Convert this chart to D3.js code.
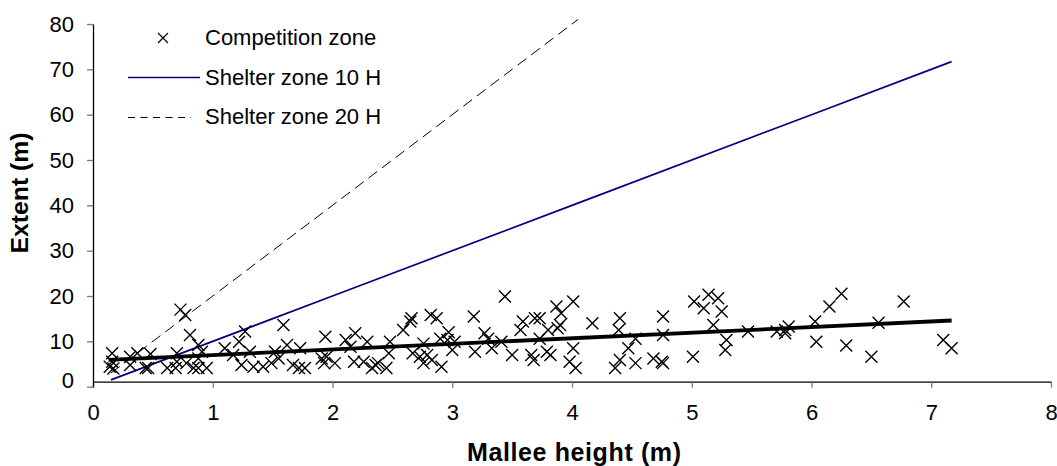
<!DOCTYPE html>
<html>
<head>
<meta charset="utf-8">
<script src="https://cdn.jsdelivr.net/npm/d3@7"></script>
<style>
  body { margin: 0; background: #fff; }
  svg text { font-family: "Liberation Sans", Arial, sans-serif; }
</style>
</head>
<body>
<div id="chart"></div>
<script>
// competition zone observations (mallee height, extent)
var heights = [0.16, 0.16, 0.14, 0.17, 0.31, 0.37, 0.31, 0.44, 0.46, 0.48,
  0.73, 0.77, 0.70, 0.62, 0.69, 0.70, 0.81, 0.78, 0.84, 0.88,
  0.95, 0.88, 0.91, 0.88, 1.10, 1.17, 1.22, 1.27, 1.24, 1.31,
  1.34, 1.42, 1.49, 1.52, 1.55, 1.59, 1.62, 1.67, 1.72, 1.77,
  1.73, 1.91, 1.94, 1.93, 1.95, 2.02, 2.11, 2.15, 2.19, 2.18,
  2.29, 2.26, 2.33, 2.36, 2.38, 2.45, 2.47, 2.48, 2.59, 2.65,
  2.66, 2.67, 2.73, 2.76, 2.79, 2.82, 2.87, 2.76, 2.83, 2.91,
  2.90, 2.97, 3.00, 2.96, 3.02, 3.18, 3.19, 3.27, 3.30, 3.33,
  3.41, 3.44, 3.50, 3.57, 3.59, 3.66, 3.68, 3.69, 3.73, 3.73,
  3.79, 3.80, 3.87, 3.88, 3.82, 3.91, 3.90, 4.01, 4.01, 3.98,
  4.03, 4.17, 4.40, 4.39, 4.53, 4.47, 4.40, 4.36, 4.53, 4.68,
  4.76, 4.75, 4.76, 4.76, 5.01, 5.02, 5.10, 5.14, 5.22, 5.25,
  5.18, 5.29, 5.28, 5.47, 5.71, 5.78, 5.81, 5.78, 6.03, 6.04,
  6.15, 6.25, 6.29, 6.50, 6.56, 6.77, 7.10, 7.17];
var extents = [7.4, 5.5, 4.4, 4.0, 6.6, 7.4, 4.8, 4.1, 4.1, 7.2,
  17.0, 15.8, 7.4, 4.1, 4.1, 5.5, 11.4, 5.2, 4.1, 4.1,
  4.1, 9.2, 7.7, 6.2, 8.5, 7.0, 9.9, 12.2, 4.8, 7.7,
  4.4, 4.4, 5.2, 7.7, 6.2, 13.6, 9.2, 4.8, 4.1, 4.1,
  8.5, 6.2, 11.0, 5.2, 6.6, 5.2, 10.3, 8.8, 11.8, 5.5,
  9.9, 5.5, 4.1, 4.8, 5.2, 4.1, 7.4, 9.9, 12.5, 14.4,
  15.1, 7.4, 6.6, 9.5, 7.0, 15.8, 15.1, 5.2, 5.9, 4.4,
  10.6, 12.0, 8.1, 10.3, 9.9, 15.5, 7.7, 11.8, 10.6, 8.5,
  9.9, 19.9, 7.0, 12.5, 14.4, 7.0, 5.9, 15.1, 15.1, 10.6,
  7.7, 12.5, 17.7, 12.9, 7.0, 16.2, 13.6, 18.8, 8.5, 5.5,
  4.1, 14.0, 15.1, 12.5, 10.6, 8.5, 5.9, 4.1, 5.2, 6.2,
  5.2, 5.5, 15.5, 11.4, 6.6, 18.8, 17.3, 20.3, 19.5, 16.6,
  13.6, 10.3, 8.1, 12.2, 12.2, 12.5, 13.3, 11.8, 14.4, 9.9,
  17.7, 20.5, 9.1, 6.6, 14.1, 18.8, 10.3, 8.5];

// shelter zone lines and the trend of the competition zone
var shelter10X = [0.15, 2.0, 4.0, 6.0, 7.17];
var shelter10Y = [1.5, 20.0, 40.0, 60.0, 71.7];
var shelter20X = [0.15, 2.0, 4.05];
var shelter20Y = [3.0, 40.0, 81.0];
var trendX = [0.13, 7.17];
var trendY = [5.9, 14.6];

var xTicks = [0, 1, 2, 3, 4, 5, 6, 7, 8];
var yTicks = [0, 10, 20, 30, 40, 50, 60, 70, 80];
var legendText = ["Competition zone", "Shelter zone 10 H", "Shelter zone 20 H"];

var w = 1057, h = 466;

var svg = d3.select("#chart").append("svg")
  .attr("width", w)
  .attr("height", h);

var x = d3.scaleLinear().domain([0, 8]).range([93, 1051]);
var y = d3.scaleLinear().domain([0, 80]).range([386.7, 24]);

// axes (the horizontal axis line sits a few px above the zero tick in the original)
var xAxis = svg.append("g")
  .attr("transform", "translate(0," + (y(0) - 5) + ")")
  .call(d3.axisBottom(x).tickValues(xTicks).tickSize(6).tickPadding(17).tickSizeOuter(0));
var yAxis = svg.append("g")
  .attr("transform", "translate(" + x(0) + ",0)")
  .call(d3.axisLeft(y).tickValues(yTicks).tickSize(6).tickPadding(13).tickSizeOuter(0));

[xAxis, yAxis].forEach(function (g) {
  g.select(".domain").attr("stroke", "#000").attr("stroke-width", 1.3);
  g.selectAll(".tick line").attr("stroke", "#777").attr("stroke-width", 1.3);
  g.selectAll(".tick text")
    .attr("fill", "#000")
    .style("font-size", "22px")
    .style("font-family", "'Liberation Sans', Arial, sans-serif");
});
yAxis.selectAll(".tick text")
  .filter(function (d) { return d === 0; })
  .attr("dy", "0.05em");

// shelter lines
var line = d3.line()
  .x(function (d) { return x(d[0]); })
  .y(function (d) { return y(d[1]); });

svg.append("path")
  .datum(d3.zip(shelter20X, shelter20Y))
  .attr("d", line)
  .attr("fill", "none")
  .attr("stroke", "#000")
  .attr("stroke-width", 1)
  .attr("stroke-dasharray", "11,6");

svg.append("path")
  .datum(d3.zip(shelter10X, shelter10Y))
  .attr("d", line)
  .attr("fill", "none")
  .attr("stroke", "#000080")
  .attr("stroke-width", 1.7);

// crosses
var s = 6;
svg.append("g")
  .selectAll("path")
  .data(d3.zip(heights, extents))
  .enter().append("path")
  .attr("d", function (d) {
    var cx = x(d[0]), cy = y(d[1]);
    return "M" + (cx - s) + "," + (cy - s) + "L" + (cx + s) + "," + (cy + s) +
      "M" + (cx - s) + "," + (cy + s) + "L" + (cx + s) + "," + (cy - s);
  })
  .attr("stroke", "#000")
  .attr("stroke-width", 1.4)
  .attr("fill", "none");

// trend line
svg.append("path")
  .datum(d3.zip(trendX, trendY))
  .attr("d", line)
  .attr("fill", "none")
  .attr("stroke", "#000")
  .attr("stroke-width", 3.8);

// axis titles
svg.append("text")
  .attr("x", 574)
  .attr("y", 461)
  .attr("text-anchor", "middle")
  .style("font-size", "25px")
  .style("font-weight", "bold")
  .attr("textLength", 214)
  .attr("lengthAdjust", "spacing")
  .text("Mallee height (m)");

svg.append("text")
  .attr("transform", "translate(28,193) rotate(-90)")
  .attr("text-anchor", "middle")
  .style("font-size", "23px")
  .style("font-weight", "bold")
  .attr("textLength", 121)
  .attr("lengthAdjust", "spacingAndGlyphs")
  .text("Extent (m)");

// legend
var legend = svg.append("g");
var lx = 163, ly = 38;
legend.append("path")
  .attr("d", "M" + (lx - 5) + "," + (ly - 5) + "L" + (lx + 5) + "," + (ly + 5) +
    "M" + (lx - 5) + "," + (ly + 5) + "L" + (lx + 5) + "," + (ly - 5))
  .attr("stroke", "#000")
  .attr("stroke-width", 1.2);
legend.append("line")
  .attr("x1", 128).attr("x2", 200).attr("y1", 77.5).attr("y2", 77.5)
  .attr("stroke", "#000080").attr("stroke-width", 1.7);
legend.append("line")
  .attr("x1", 128).attr("x2", 191).attr("y1", 117.5).attr("y2", 117.5)
  .attr("stroke", "#000").attr("stroke-width", 1).attr("stroke-dasharray", "7,5.5");

legend.selectAll("text")
  .data(legendText)
  .enter().append("text")
  .attr("x", 205)
  .attr("y", function (d, i) { return 45 + i * 39.5; })
  .style("font-size", "22px")
  .text(function (d) { return d; });
</script>
</body>
</html>
